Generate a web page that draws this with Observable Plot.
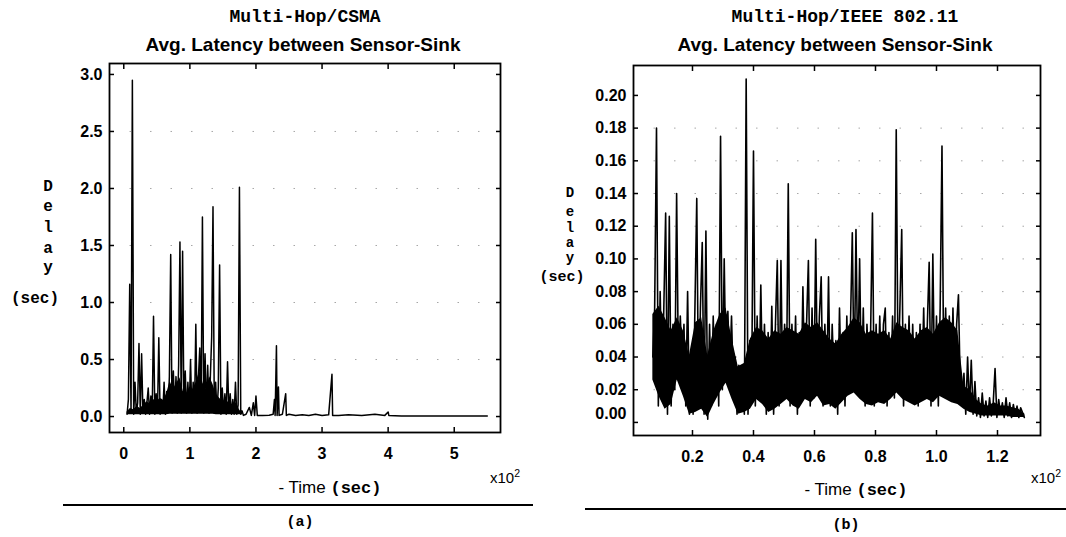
<!DOCTYPE html>
<html><head><meta charset="utf-8">
<script src="https://cdn.jsdelivr.net/npm/d3@7"></script>
<script src="https://cdn.jsdelivr.net/npm/@observablehq/plot@0.6"></script>
<style>
html,body{margin:0;padding:0;background:#fff;}
#page{position:relative;width:1066px;height:537px;overflow:hidden;background:#fff;}
.abs{position:absolute;white-space:nowrap;color:#000;transform:translate(-50%,-50%);line-height:1;}
.mono{font-family:"Liberation Mono","DejaVu Sans Mono",monospace;font-weight:bold;}
.sans{font-family:"Liberation Sans",Arial,sans-serif;}
.rule{position:absolute;height:2px;background:#000;}
.panel{position:absolute;top:0;}
sup{font-size:70%;}
</style></head><body><div id="page">
<div class="abs mono" style="left:305px;top:17px;font-size:18px;">Multi-Hop/CSMA</div>
<div class="abs sans" style="left:303px;top:44px;font-size:19px;font-weight:bold;">Avg. Latency between Sensor-Sink</div>
<div class="abs mono" style="left:845px;top:17px;font-size:18px;">Multi-Hop/IEEE 802.11</div>
<div class="abs sans" style="left:835px;top:44px;font-size:19px;font-weight:bold;">Avg. Latency between Sensor-Sink</div>

<div class="abs mono" style="left:48px;top:187px;font-size:16px;">D</div>
<div class="abs mono" style="left:48px;top:207px;font-size:16px;">e</div>
<div class="abs mono" style="left:48px;top:228px;font-size:16px;">l</div>
<div class="abs mono" style="left:48px;top:249px;font-size:16px;">a</div>
<div class="abs mono" style="left:48px;top:268px;font-size:16px;">y</div>
<div class="abs mono" style="left:35px;top:299px;font-size:16px;">(sec)</div>

<div class="abs mono" style="left:570px;top:193px;font-size:14px;">D</div>
<div class="abs mono" style="left:570px;top:212px;font-size:14px;">e</div>
<div class="abs mono" style="left:570px;top:228px;font-size:14px;">l</div>
<div class="abs mono" style="left:570px;top:243px;font-size:14px;">a</div>
<div class="abs mono" style="left:570px;top:258px;font-size:14px;">y</div>
<div class="abs mono" style="left:562px;top:277px;font-size:15px;">(sec)</div>

<div class="abs sans" style="left:330px;top:488px;font-size:17px;">- Time <span class="mono">(sec)</span></div>
<div class="abs sans" style="left:856px;top:490px;font-size:17px;">- Time <span class="mono">(sec)</span></div>
<div class="abs sans" style="left:505px;top:476px;font-size:15px;">x10<sup>2</sup></div>
<div class="abs sans" style="left:1046px;top:476px;font-size:15px;">x10<sup>2</sup></div>

<div class="rule" style="left:63px;width:470px;top:504px;"></div>
<div class="rule" style="left:585px;width:481px;top:508px;"></div>
<div class="abs mono" style="left:300px;top:522px;font-size:15px;">(a)</div>
<div class="abs mono" style="left:846px;top:525px;font-size:15px;">(b)</div>
</div>
<script>
// ---- (a) Multi-Hop/CSMA : time in seconds, delay in seconds ----
const csmaTime = [
  5,7,9,11,13,15,17,19,21,23,25,27,29,31,33,35,37,39,41,43,
  45,47,49,51,53,55,57,59,61,63,65,67,69,71,73,75,77,79,81,83,
  85,87,89,91,93,95,97,99,101,103,105,107,109,111,113,115,117,119,121,123,
  125,127,129,131,133,135,137,139,141,143,145,147,149,151,153,155,157,159,161,163,
  165,167,169,171,173,175,177,179,181,
  185,190,193,196,198,200,202,210,220,226,228,229,231,232,234,235,240,245,246,250,
  260,270,280,290,300,310,315,316,325,340,360,380,395,400,401,420,450,480,510,550
];
const csmaDelay = [
  0.02,0.15,1.16,0.03,2.95,0.02,0.30,0.03,0.12,0.64,0.02,0.55,0.03,0.15,0.02,0.12,0.25,0.02,0.18,0.03,
  0.88,0.02,0.20,0.03,0.69,0.02,0.15,0.03,0.30,0.02,0.22,0.04,0.35,1.42,0.03,0.40,0.04,0.35,0.03,0.45,
  1.53,0.03,1.45,0.04,0.40,0.03,0.30,0.04,0.50,0.03,0.30,0.04,0.81,0.03,0.35,0.60,0.04,1.75,0.03,0.55,
  0.04,0.45,0.03,0.35,0.70,1.84,0.03,0.30,0.04,0.25,1.33,0.02,0.25,0.03,0.20,0.02,0.48,0.03,0.20,0.02,
  0.15,0.02,0.30,0.02,0.10,2.01,0.02,0.05,0.01,
  0.02,0.08,0.01,0.12,0.01,0.18,0.01,0.01,0.012,0.02,0.15,0.01,0.62,0.01,0.26,0.01,0.02,0.20,0.01,0.02,
  0.01,0.015,0.01,0.02,0.01,0.015,0.37,0.01,0.01,0.015,0.01,0.02,0.01,0.04,0.01,0.005,0.005,0.005,0.005,0.005
];
// dense black core of the CSMA trace (lower / upper edge)
const csmaCoreTime = [5,10,15,20,25,30,35,40,45,50,55,60,65,70,75,80,85,90,95,100,105,110,115,120,125,130,135,140,145,150,155,160,165,170,175,180];
const csmaCoreLow  = [0.015,0.015,0.015,0.015,0.015,0.015,0.015,0.015,0.015,0.015,0.015,0.015,0.015,0.02,0.02,0.02,0.02,0.02,0.02,0.02,0.02,0.02,0.02,0.02,0.02,0.02,0.02,0.015,0.015,0.015,0.015,0.015,0.015,0.015,0.015,0.015];
const csmaCoreHigh = [0.04,0.07,0.06,0.09,0.07,0.10,0.13,0.11,0.15,0.13,0.16,0.14,0.20,0.31,0.24,0.29,0.34,0.22,0.20,0.26,0.24,0.31,0.40,0.29,0.24,0.35,0.28,0.19,0.16,0.13,0.15,0.11,0.09,0.12,0.06,0.02];
const csmaXTicks = [0,100,200,300,400,500];
const csmaXTickLabels = ["0","1","2","3","4","5"];
const csmaYTicks = [0,0.5,1,1.5,2,2.5,3];
const csmaYTickLabels = ["0.0","0.5","1.0","1.5","2.0","2.5","3.0"];

// ---- (b) Multi-Hop/IEEE 802.11 ----
const ieeeTime = [
  7.0,7.6,8.2,8.8,9.4,10.0,10.6,11.2,11.8,12.4,
  13.0,13.6,14.2,14.8,15.4,16.0,16.6,17.2,17.8,18.4,
  19.0,19.6,20.2,20.8,21.4,22.0,22.6,23.2,23.8,24.4,
  25.0,25.6,26.2,26.8,27.4,28.0,28.6,29.2,29.8,30.4,
  31.0,31.6,32.2,32.8,33.4,34.0,34.6,35.2,35.8,36.4,
  37.0,37.6,38.2,38.8,39.4,40.0,40.6,41.2,41.8,42.4,
  43.0,43.6,44.2,44.8,45.4,46.0,46.6,47.2,47.8,48.4,
  49.0,49.6,50.2,50.8,51.4,52.0,52.6,53.2,53.8,54.4,
  55.0,55.6,56.2,56.8,57.4,58.0,58.6,59.2,59.8,60.4,
  61.0,61.6,62.2,62.8,63.4,64.0,64.6,65.2,65.8,66.4,
  67.0,67.6,68.2,68.8,69.4,70.0,70.6,71.2,71.8,72.4,
  73.0,73.6,74.2,74.8,75.4,76.0,76.6,77.2,77.8,78.4,
  79.0,79.6,80.2,80.8,81.4,82.0,82.6,83.2,83.8,84.4,
  85.0,85.6,86.2,86.8,87.4,88.0,88.6,89.2,89.8,90.4,
  91.0,91.6,92.2,92.8,93.4,94.0,94.6,95.2,95.8,96.4,
  97.0,97.6,98.2,98.8,99.4,100.0,100.6,101.2,101.8,102.4,
  103.0,103.6,104.2,104.8,105.4,106.0,106.6,107.2,107.8,108.4,
  109.0,109.6,110.2,110.8,111.4,112.0,112.6,113.2,113.8,114.4,
  115.0,115.6,116.2,116.8,117.4,118.0,118.6,119.2,119.8,120.4,
  121.0,121.6,122.2,122.8,123.4,124.0,124.6,125.2,125.8,126.4,
  127.0,127.6,128.2,128.8
];
const ieeeDelay = [
  0.040,0.070,0.180,0.010,0.080,0.020,0.070,0.128,0.005,0.126,
  0.010,0.060,0.020,0.140,0.030,0.065,0.035,0.060,0.010,0.080,
  0.005,0.040,0.005,0.070,0.137,0.010,0.070,0.110,0.005,0.117,
  0.002,0.060,0.010,0.065,0.015,0.060,0.010,0.175,0.020,0.100,
  0.025,0.068,0.030,0.065,0.020,0.040,0.005,0.035,0.010,0.030,
  0.005,0.210,0.005,0.050,0.020,0.166,0.010,0.065,0.015,0.084,
  0.020,0.060,0.005,0.055,0.010,0.071,0.005,0.060,0.099,0.010,
  0.099,0.015,0.060,0.020,0.146,0.010,0.060,0.020,0.065,0.005,
  0.055,0.015,0.083,0.020,0.060,0.099,0.010,0.070,0.015,0.112,
  0.020,0.065,0.089,0.010,0.060,0.020,0.089,0.010,0.060,0.025,
  0.050,0.005,0.070,0.020,0.055,0.010,0.065,0.020,0.060,0.116,
  0.020,0.118,0.030,0.100,0.020,0.070,0.010,0.060,0.030,0.055,
  0.128,0.010,0.060,0.020,0.065,0.015,0.060,0.070,0.010,0.055,
  0.020,0.065,0.015,0.179,0.030,0.070,0.118,0.010,0.060,0.020,
  0.065,0.015,0.060,0.020,0.055,0.010,0.060,0.020,0.070,0.015,
  0.060,0.098,0.010,0.103,0.020,0.065,0.010,0.070,0.169,0.020,
  0.070,0.015,0.065,0.020,0.070,0.015,0.060,0.078,0.020,0.015,
  0.030,0.005,0.040,0.008,0.038,0.005,0.025,0.004,0.015,0.003,
  0.018,0.004,0.013,0.003,0.015,0.004,0.012,0.033,0.003,0.014,
  0.005,0.012,0.003,0.015,0.004,0.012,0.003,0.011,0.004,0.010,
  0.003,0.009,0.006,0.003
];
// dense black core of the IEEE 802.11 trace (lower / upper edge)
const ieeeCoreTime = [
  7,9,11,13,15,17,19,21,23,25,27,29,31,33,35,37,39,41,43,45,
  47,49,51,53,55,57,59,61,63,65,67,69,71,73,75,77,79,81,83,85,
  87,89,91,93,95,97,99,101,103,105,107,109,111,113,115,117,119,121,123,125,
  127,129
];
const ieeeCoreLow = [
  0.026,0.016,0.008,0.011,0.026,0.016,0.005,0.006,0.008,0.003,0.011,0.018,0.024,0.014,0.005,0.006,0.008,0.014,0.011,0.006,
  0.008,0.011,0.014,0.010,0.008,0.014,0.012,0.016,0.010,0.011,0.008,0.012,0.016,0.018,0.014,0.011,0.010,0.012,0.011,0.014,
  0.018,0.014,0.012,0.010,0.012,0.014,0.012,0.016,0.014,0.012,0.011,0.008,0.006,0.005,0.004,0.004,0.004,0.004,0.004,0.003,
  0.003,0.003
];
const ieeeCoreHigh = [
  0.066,0.071,0.064,0.056,0.064,0.056,0.041,0.061,0.064,0.041,0.056,0.066,0.070,0.051,0.034,0.036,0.051,0.058,0.056,0.051,
  0.056,0.054,0.058,0.056,0.054,0.061,0.058,0.061,0.056,0.051,0.048,0.054,0.058,0.064,0.061,0.054,0.056,0.054,0.056,0.051,
  0.061,0.058,0.056,0.051,0.056,0.058,0.054,0.061,0.064,0.061,0.056,0.022,0.020,0.014,0.011,0.010,0.012,0.010,0.010,0.009,
  0.008,0.005
];
const ieeeXTicks = [20,40,60,80,100,120];
const ieeeXTickLabels = ["0.2","0.4","0.6","0.8","1.0","1.2"];
const ieeeYTicks = [0,0.02,0.04,0.06,0.08,0.10,0.12,0.14,0.16,0.18,0.20];
const ieeeYTickLabels = ["0.00","0.02","0.04","0.06","0.08","0.10","0.12","0.14","0.16","0.18","0.20"];

function series(times, delays) {
  const n = Math.min(times.length, delays.length);
  return times.slice(0, n).map((t, i) => ({t, v: delays[i]}));
}
function band(times, lo, hi) {
  const n = Math.min(times.length, lo.length, hi.length);
  return times.slice(0, n).map((t, i) => ({t, lo: lo[i], hi: hi[i]}));
}

function panel(o) {
  const lab = (ticks, labels) => d => labels[ticks.indexOf(d)];
  const blank = () => "";
  const yLabelTicks = o.zeroShift ? o.yTicks.slice(1) : o.yTicks;
  const marks = [
    Plot.ruleY(o.yTicks.slice(1, -1), {stroke: "#000", strokeOpacity: 0.35, strokeDasharray: "1.5,19"}),
    Plot.areaY(o.core, {x: "t", y1: "lo", y2: "hi", fill: "#000", clip: true}),
    Plot.lineY(o.data, {x: "t", y: "v", stroke: "#000", strokeWidth: o.lw, clip: true}),
    Plot.frame({stroke: "#000", strokeWidth: 1.8}),
    Plot.axisX(o.xTicks, {anchor: "bottom", tickSize: 5, dy: -5, strokeWidth: 1.5, tickFormat: blank, label: null}),
    Plot.axisX(o.xTicks, {anchor: "top", tickSize: 5, dy: 5, strokeWidth: 1.5, tickFormat: blank, label: null}),
    Plot.axisY(o.yTicks, {anchor: "left", tickSize: 5, dx: 5, strokeWidth: 1.5, tickFormat: blank, label: null}),
    Plot.axisY(o.yTicks, {anchor: "right", tickSize: 5, dx: -5, strokeWidth: 1.5, tickFormat: blank, label: null}),
    Plot.axisX(o.xTicks, {anchor: "bottom", tickSize: 0, tickPadding: 15, tickFormat: lab(o.xTicks, o.xLabels), label: null}),
    Plot.axisY(yLabelTicks, {anchor: "left", tickSize: 0, tickPadding: 7, tickFormat: lab(o.yTicks, o.yLabels), label: null})
  ];
  if (o.zeroShift) {
    marks.push(Plot.axisY([o.yTicks[0]], {anchor: "left", tickSize: 0, tickPadding: 7, dy: -9, tickFormat: lab(o.yTicks, o.yLabels), label: null}));
  }
  return Plot.plot({
    width: 533, height: 480,
    marginLeft: o.m[0], marginRight: o.m[1], marginTop: o.m[2], marginBottom: o.m[3],
    x: {domain: o.xDomain},
    y: {domain: o.yDomain},
    style: {fontFamily: "'Liberation Sans', Arial, sans-serif", fontSize: "16px", fontWeight: "bold", color: "#000", background: "transparent", overflow: "visible"},
    marks
  });
}

const page = document.getElementById("page");
const left = panel({
  data: series(csmaTime, csmaDelay),
  core: band(csmaCoreTime, csmaCoreLow, csmaCoreHigh),
  xDomain: [-21.6, 570], yDomain: [-0.14, 3.096],
  xTicks: csmaXTicks, xLabels: csmaXTickLabels, yTicks: csmaYTicks, yLabels: csmaYTickLabels,
  m: [109, 33, 63, 48], zeroShift: false, lw: 1.5
});
left.classList.add("panel"); left.style.left = "0px";
page.appendChild(left);

const right = panel({
  data: series(ieeeTime, ieeeDelay),
  core: band(ieeeCoreTime, ieeeCoreLow, ieeeCoreHigh),
  xDomain: [0.66, 134.1], yDomain: [-0.008, 0.2183],
  xTicks: ieeeXTicks, xLabels: ieeeXTickLabels, yTicks: ieeeYTicks, yLabels: ieeeYTickLabels,
  m: [100, 26, 65, 45], zeroShift: true, lw: 1.6
});
right.classList.add("panel"); right.style.left = "533px";
page.appendChild(right);
</script>
</body></html>
